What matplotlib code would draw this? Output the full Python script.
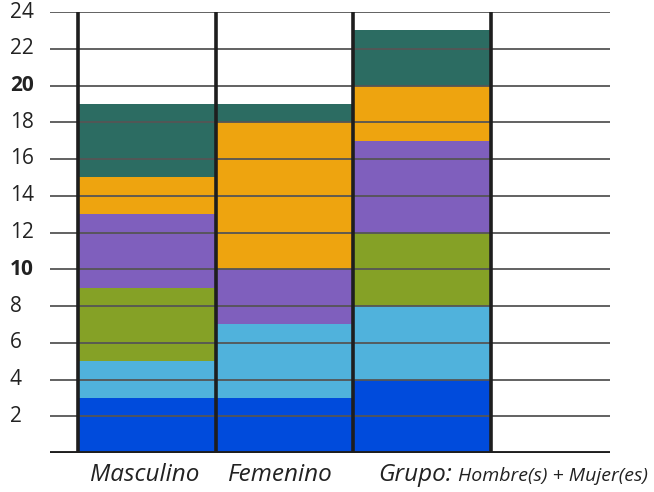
import matplotlib.pyplot as plt
import numpy as np

categories = ["Masculino", "Femenino", "Grupo"]
blue = [3, 3, 4]
light_blue = [2, 4, 4]
green = [4, 0, 4]
purple = [4, 3, 5]
orange = [2, 8, 3]
teal = [4, 1, 3]
yticks = [2, 4, 6, 8, 10, 12, 14, 16, 18, 20, 22, 24]
colors = ["#004BDC", "#50B2DC", "#85A126", "#7F5FBD", "#EEA40F", "#2C6C62"]

series = [blue, light_blue, green, purple, orange, teal]

fig = plt.figure(figsize=(6.54, 4.92), dpi=100)
W, H = 654, 492
ax = fig.add_axes([50 / W, 1 - 453 / H, (610 - 50) / W, (453 - 12) / H])

x = np.arange(len(categories))
bottom = np.zeros(len(categories))
for vals, c in zip(series, colors):
    ax.bar(x, vals, width=1.0, bottom=bottom, color=c, edgecolor="none", zorder=1)
    bottom += np.array(vals)

ax.set_xlim(-0.703, 3.364)
ax.set_ylim(0, 24)

for t in yticks:
    ax.axhline(t, color="#555555", lw=1.3, zorder=2)

for e in [-0.5, 0.5, 1.5, 2.5]:
    ax.plot([e, e], [0, 24], color="#1e1e1e", lw=2.6, zorder=3, solid_capstyle="butt")
ax.axhline(0, color="#1e1e1e", lw=2.8, zorder=4)

for s in ax.spines.values():
    s.set_visible(False)
ax.set_xticks([])
ax.set_yticks([])

for t in yticks:
    fig.text(10 / W, ax.transData.transform((0, t))[1] / H, str(t),
             ha="left", va="center", fontsize=15, family="Open Sans",
             fontweight="bold" if t in (10, 20) else "normal", color="#222222")

ly = 1 - 481 / H
fig.text(145 / W, ly, "Masculino", ha="center", va="baseline", fontsize=17.5,
         style="italic", family="Open Sans", color="#222222")
fig.text(280 / W, ly, "Femenino", ha="center", va="baseline", fontsize=17.5,
         style="italic", family="Open Sans", color="#222222")
fig.text(378 / W, ly, "Grupo:", ha="left", va="baseline", fontsize=17.5,
         style="italic", family="Open Sans", color="#222222")
fig.text(458 / W, ly, "Hombre(s) + Mujer(es)", ha="left", va="baseline", fontsize=14,
         style="italic", family="Open Sans", color="#222222")

fig.savefig("out.png", dpi=100)
